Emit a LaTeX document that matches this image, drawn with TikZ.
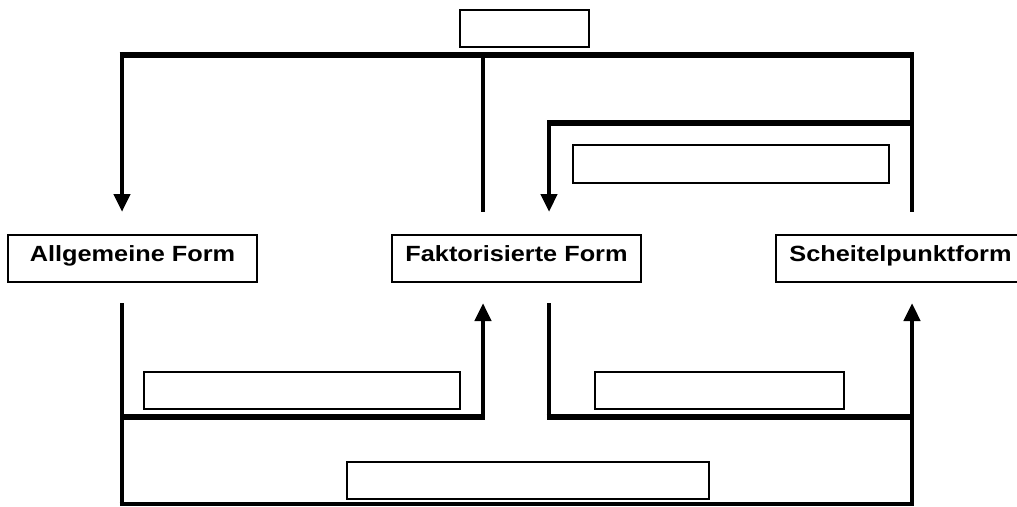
\documentclass[tikz,border=0pt]{standalone}
\usepackage{fontspec}
\newfontfamily\lblfont[FakeStretch=1.15]{Liberation Sans}
\usetikzlibrary{arrows.meta}

\tikzset{
  formbox/.style={draw, line width=1.5pt, minimum width=249pt, minimum height=47pt,
    inner sep=0pt, text height=11.8pt, text depth=5.8pt,
    font=\lblfont\bfseries\fontsize{22}{24}\selectfont},
  emptybox/.style={draw, line width=1.5pt, inner sep=0pt, minimum height=37pt},
  hline/.style={line width=5.5pt},
  vline/.style={line width=4.8pt},
  baseline/.style={line width=3.6pt},
  arr/.style={vline, -{Triangle[length=18pt,width=16pt]}}
}

\begin{document}
\begin{tikzpicture}[x=1pt, y=-1pt]
  \useasboundingbox (0,0) rectangle (1017,506);

  % the three forms
  \node[formbox] (allg) at (132.5,258.5) {Allgemeine Form};
  \node[formbox] (fakt) at (516.5,258.5) {Faktorisierte Form};
  \node[formbox] (scheit) at (900.5,258.5) {Scheitelpunktform};

  % empty label boxes
  \node[emptybox, minimum width=129pt] (top) at (524.5,28.5) {};
  \node[emptybox, minimum width=316pt, minimum height=38pt] (midR) at (731,164) {};
  \node[emptybox, minimum width=316pt] (botL) at (302,390.5) {};
  \node[emptybox, minimum width=249pt] (botR) at (719.5,390.5) {};
  \node[emptybox, minimum width=362pt] (bot) at (528,480.5) {};

  % connector points
  \coordinate (tL) at (122,55);
  \coordinate (tM) at (483,55);
  \coordinate (tR) at (912,55);
  \coordinate (sR) at (912,123);
  \coordinate (sL) at (549,123);
  \coordinate (aAllg) at (122,212);
  \coordinate (eFakt) at (483,212);
  \coordinate (eScheit) at (912,212);
  \coordinate (aFakt) at (549,212);

  \coordinate (bAllg) at (122,303);
  \coordinate (uFakt) at (483,303);
  \coordinate (bFakt) at (549,303);
  \coordinate (uScheit) at (912,303);
  \coordinate (mL) at (122,417);
  \coordinate (mM) at (483,417);
  \coordinate (mN) at (549,417);
  \coordinate (mR) at (912,417);
  \coordinate (fL) at (122,504);
  \coordinate (fR) at (912,504);

  % upper connectors
  \draw[hline] ([xshift=-2.4pt]tL) -- ([xshift=2.4pt]tR);
  \draw[arr] (tL) -- (aAllg);
  \draw[vline] (tM) -- (eFakt);
  \draw[vline] (tR) -- (eScheit);
  \draw[hline] (sR) -- ([xshift=-2.4pt]sL);
  \draw[arr] (sL) -- (aFakt);

  % lower connectors
  \draw[vline] (bAllg) -- ([yshift=-1.8pt]fL);
  \draw[hline] (mL) -- ([xshift=2.4pt]mM);
  \draw[arr] (mM) -- (uFakt);
  \draw[vline] (bFakt) -- (mN);
  \draw[hline] ([xshift=-2.4pt]mN) -- (mR);
  \draw[arr] ([yshift=-1.8pt]fR) -- (uScheit);
  \draw[baseline] ([xshift=-2.4pt]fL) -- ([xshift=2.4pt]fR);
\end{tikzpicture}
\end{document}
